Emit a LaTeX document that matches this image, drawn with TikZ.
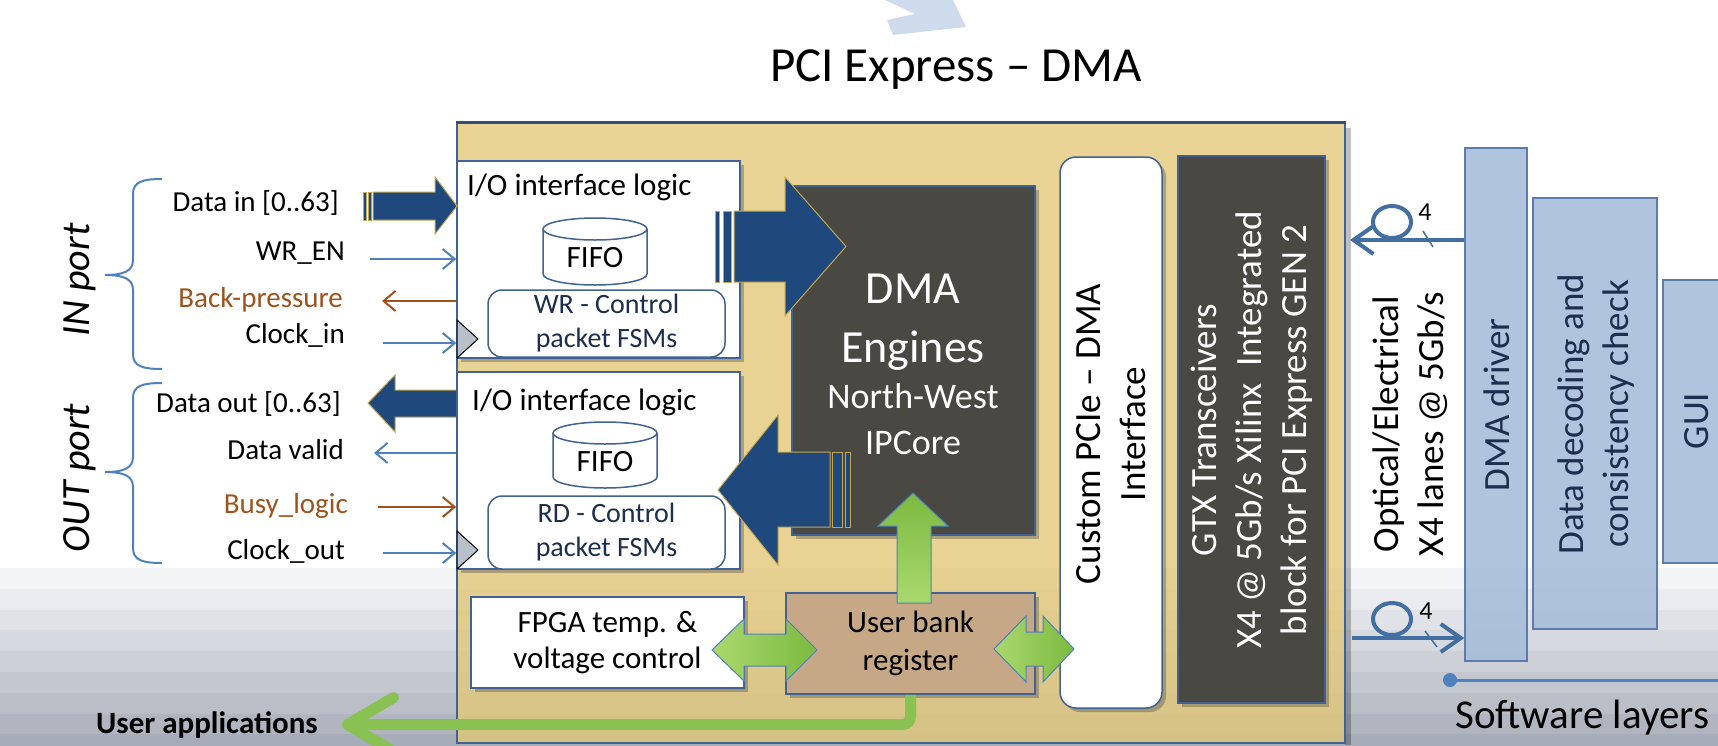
\documentclass[tikz,border=0pt]{standalone}
\usepackage{fontspec}
\setmainfont{Carlito}
\usepackage{xcolor}
\definecolor{sigblue}{RGB}{79,129,189}
\definecolor{rust}{RGB}{160,82,29}
\definecolor{navyarrow}{RGB}{31,73,125}
\definecolor{goldline}{RGB}{196,166,80}
\definecolor{sand}{RGB}{226,199,118}
\definecolor{frameblue}{RGB}{64,98,148}
\definecolor{charcoal}{RGB}{74,72,67}
\definecolor{tanbox}{RGB}{198,168,134}
\definecolor{leaf}{RGB}{124,186,64}
\definecolor{leaflight}{RGB}{170,216,110}
\definecolor{mist}{RGB}{166,188,217}
\definecolor{mistline}{RGB}{92,124,172}
\definecolor{navytext}{RGB}{30,46,78}
\definecolor{stripehi}{RGB}{243,244,246}
\definecolor{stripelo}{RGB}{166,172,184}
\definecolor{ghost}{RGB}{206,219,236}
\definecolor{clockgray}{RGB}{186,192,202}
\usepackage{tikz}
\usetikzlibrary{arrows.meta,positioning,calc,shadows}
\tikzset{
  softshadow/.style={drop shadow={shadow xshift=4pt,shadow yshift=-4pt,
                     opacity=0.35,fill=black!75}},
  whitebox/.style={draw=frameblue,line width=1.5pt,fill=white,softshadow,inner sep=0pt},
  darkbox/.style={draw=frameblue,line width=1.5pt,fill=charcoal,softshadow,inner sep=0pt},
  swbox/.style={draw=mistline,line width=1.5pt,fill=mist,fill opacity=0.88,inner sep=0pt},
  ctlbox/.style={draw=frameblue,line width=1.5pt,fill=white,rounded corners=14pt,
                 text=navytext,align=center,inner sep=0pt,
                 font=\fontsize{28}{34}\selectfont},
  portlbl/.style={font=\fontsize{29}{35}\selectfont,anchor=base east,inner sep=0pt},
  portname/.style={font=\itshape\fontsize{40}{48}\selectfont,rotate=90,inner sep=0pt},
  heading/.style={font=\fontsize{31}{37}\selectfont,anchor=base west,inner sep=0pt},
  midlbl/.style={font=\fontsize{31}{37}\selectfont,align=center,inner sep=0pt},
  vertlbl/.style={font=\fontsize{37}{45}\selectfont,align=center,rotate=90,inner sep=0pt},
  swlbl/.style={vertlbl,text=navytext},
  wire/.style={draw=sigblue,line width=2pt,-{Straight Barb[length=12pt,width=20pt]}},
  rustwire/.style={wire,draw=rust},
  brace/.style={draw=sigblue,line width=2pt},
  bigarrow/.style={fill=navyarrow,draw=goldline,line width=1pt},
  greenarrow/.style={draw=sigblue,line width=1pt,top color=leaf,bottom color=leaflight},
  greenside/.style={draw=sigblue,line width=1pt,left color=leaflight,right color=leaf},
  fiber/.style={draw=sigblue!85!black,line width=4pt,
                -{Straight Barb[length=20pt,width=28pt]}},
  fiberloop/.style={draw=sigblue!85!black,line width=4pt},
  lanes/.style={font=\fontsize{26}{31}\selectfont,inner sep=0pt},
}

\begin{document}
\begin{tikzpicture}[x=1pt,y=-1pt]
\useasboundingbox (0,0) rectangle (1718,745);
\clip (0,0) rectangle (1718,745);
% floor stripes
\foreach \i [evaluate=\i as \pc using int(\i*12.5)] in {0,...,8}
  \fill[stripelo!\pc!stripehi] (0,{568+\i*20.8}) rectangle (1718,{589.3+\i*20.8});
\fill[ghost] (885,0) -- (953,0) -- (966,27) -- (893,35) -- (887,20) -- (915,14) -- cycle;

\node[font=\fontsize{49}{58}\selectfont] (title) at (956,70) {PCI Express – DMA};

% FPGA card
\fill[black,opacity=0.25] (1345,128) rectangle (1351,745);
\node[draw=frameblue,line width=2pt,fill=sand,fill opacity=0.78,
      minimum width=888pt,minimum height=620pt,inner sep=0pt] (card) at (901,433) {};
\draw[frameblue!80!black,line width=3pt] (card.north west) -- (card.north east);

% ports
\node[portname] (inport) at (80,280) {IN port};
\node[portname] (outport) at (80,478) {OUT port};
\draw[brace] (162,179) .. controls (142,179) and (133,182) .. (133,194)
  -- (133,260) .. controls (133,271) and (124,275) .. (105,275)
  .. controls (124,275) and (133,279) .. (133,290)
  -- (133,354) .. controls (133,366) and (142,369) .. (162,369);
\draw[brace] (162,383) .. controls (142,383) and (133,386) .. (133,398)
  -- (133,457) .. controls (133,468) and (124,472) .. (105,472)
  .. controls (124,472) and (133,476) .. (133,487)
  -- (133,548) .. controls (133,560) and (142,563) .. (162,563);

\node[portlbl] (datain) at (339,211) {Data in [0..63]};
\node[portlbl] (wren) at (345,260) {WR\_EN};
\node[portlbl,text=rust] (backp) at (343,307) {Back-pressure};
\node[portlbl] (clkin) at (345,343) {Clock\_in};
\node[portlbl] (dataout) at (341,412) {Data out [0..63]};
\node[portlbl] (dvalid) at (344,459) {Data valid};
\node[portlbl,text=rust] (busy) at (348,513) {Busy\_logic};
\node[portlbl] (clkout) at (345,559) {Clock\_out};

% data out bus (under the box edge)
\path[bigarrow] (368,403) -- (395,375) -- (395,390) -- (457,390) -- (457,417)
  -- (395,417) -- (395,432) -- cycle;

% I/O blocks
\node[whitebox,minimum width=283pt,minimum height=197pt] (ioin) at (598.5,259.5) {};
\node[whitebox,minimum width=283pt,minimum height=197pt] (ioout) at (598.5,470.5) {};
\node[heading] (iohdin) at (467,195) {I/O interface logic};
\node[heading] (iohdout) at (472,410) {I/O interface logic};

\draw[frameblue,line width=1.5pt,fill=white] (543,229) -- (543,274)
  arc[start angle=180,end angle=0,x radius=52,y radius=11] -- (647,229);
\draw[frameblue,line width=1.5pt,fill=white] (595,229) ellipse[x radius=52,y radius=11];
\node[midlbl] (fifoin) at (595,258) {FIFO};
\draw[frameblue,line width=1.5pt,fill=white] (553,433) -- (553,477)
  arc[start angle=180,end angle=0,x radius=52,y radius=11] -- (657,433);
\draw[frameblue,line width=1.5pt,fill=white] (605,433) ellipse[x radius=52,y radius=11];
\node[midlbl] (fifoout) at (605,462) {FIFO};

\node[ctlbox,minimum width=237pt,minimum height=67pt] (wrctl) at (606.5,323.5)
  {WR - Control\\packet FSMs};
\node[ctlbox,minimum width=237pt,minimum height=73pt] (rdctl) at (606.5,532.5)
  {RD - Control\\packet FSMs};

\filldraw[fill=clockgray,draw=black,line width=1pt] (457,320) -- (478,339) -- (457,358) -- cycle;
\filldraw[fill=clockgray,draw=black,line width=1pt] (457,531) -- (478,550) -- (457,569) -- cycle;

% control wires
\coordinate (wrtail) at (370,259);
\draw[wire] (wrtail) -- (wrtail -| ioin.west);
\coordinate (bphead) at (382,301);
\draw[rustwire] (bphead -| ioin.west) -- (bphead);
\coordinate (clkintail) at (383,343);
\draw[wire] (clkintail) -- (clkintail -| ioin.west);
\coordinate (dvhead) at (374,453);
\draw[wire] (dvhead -| ioout.west) -- (dvhead);
\coordinate (busytail) at (378,507);
\draw[rustwire] (busytail) -- (busytail -| ioout.west);
\coordinate (clkouttail) at (383,553);
\draw[wire] (clkouttail) -- (clkouttail -| ioout.west);

% data in bus
\path[bigarrow] (363,192) rectangle (366,220);
\path[bigarrow] (368,192) rectangle (371,220);
\path[bigarrow] (373,192) -- (435,192) -- (435,177) -- (457,206) -- (435,234)
  -- (435,220) -- (373,220) -- cycle;

% DMA engines
\node[darkbox,minimum width=243pt,minimum height=349pt] (dma) at (913.5,360.5) {};
\node[text=white,align=center,inner sep=0pt,font=\fontsize{46}{59}\selectfont]
  (dmatitle) at (913,322) {DMA\\Engines};
\node[text=white,align=center,inner sep=0pt,font=\fontsize{36}{46}\selectfont]
  (dmacore) at (913,419) {North-West\\IPCore};

\path[bigarrow] (715,211) rectangle (719,282);
\path[bigarrow] (723,211) rectangle (731,282);
\path[bigarrow] (734,211) -- (785,211) -- (785,177) -- (846,246.5) -- (785,316)
  -- (785,282) -- (734,282) -- cycle;
\path[bigarrow] (845,452) rectangle (850,527);
\path[bigarrow] (832,452) rectangle (842,527);
\path[bigarrow] (830,452) -- (778,452) -- (778,415) -- (718,490) -- (778,565)
  -- (778,527) -- (830,527) -- cycle;

% bottom row
\node[whitebox,minimum width=273pt,minimum height=91pt,midlbl,
      font=\fontsize{31}{36}\selectfont] (fpga) at (607.5,642.5)
  {FPGA temp. \&\\voltage control};
\node[draw=frameblue,line width=1.5pt,fill=tanbox,softshadow,inner sep=0pt,
      minimum width=249pt,minimum height=101pt,align=center,
      font=\fontsize{31}{38}\selectfont] (ubr) at (910.5,643.5) {User bank\\register};

\path[greenarrow] (897,603) -- (897,526) -- (878,526) -- (913,493) -- (948,526)
  -- (931,526) -- (931,603) -- cycle;
\path[greenside] (712,650) -- (744,619) -- (744,634) -- (786,634) -- (786,619)
  -- (817,650) -- (786,681) -- (786,666) -- (744,666) -- (744,681) -- cycle;

% PCIe side
\node[whitebox,rounded corners=16pt,minimum width=102pt,minimum height=551pt]
  (custom) at (1111,432.5) {};
\node[vertlbl] (customtxt) at (1111,434) {Custom PCIe – DMA\\Interface};
\path[greenside] (994,649) -- (1026,616) -- (1026,632) -- (1043,632) -- (1043,616)
  -- (1074,649) -- (1043,682) -- (1043,666) -- (1026,666) -- (1026,682) -- cycle;

\node[darkbox,minimum width=147pt,minimum height=547pt] (gtx) at (1251.5,429.5) {};
\node[vertlbl,text=white] (gtxtxt) at (1252,430)
  {GTX Transceivers\\X4 @ 5Gb/s Xilinx\ \ Integrated\\block for PCI Express GEN 2};

\node[font=\bfseries\fontsize{31}{37}\selectfont,anchor=base east,inner sep=0pt]
  (userapp) at (318,733) {User applications};
\draw[draw=leaf!90!white,line width=11pt,rounded corners=8pt,
      -{Straight Barb[length=46pt,width=54pt,round]}]
  (ubr.south) |- ([xshift=24pt]userapp.east);

% host side
\node[vertlbl] (optlink) at (1410,424) {Optical/Electrical\\X4 lanes @ 5Gb/s};

\node[swbox,minimum width=62pt,minimum height=513pt] (drv) at (1496,404.5) {};
\node[swlbl] (drvtxt) at (1497,405) {DMA driver};
\node[swbox,minimum width=124pt,minimum height=431pt] (decode) at (1595,413.5) {};
\node[swlbl] (decodetxt) at (1596,414) {Data decoding and\\consistency check};
\node[swbox,minimum width=84pt,minimum height=283pt] (gui) at (1705,421.5) {};
\node[swlbl] (guitxt) at (1697,421) {GUI};

\coordinate (rxtip) at (1350,240);
\draw[fiber] (drv.west |- rxtip) -- (rxtip);
\draw[fiberloop] (1392,222) ellipse[x radius=19,y radius=16];
\draw[sigblue!85!black,line width=1.5pt] (1423,231) -- (1433,247);
\node[lanes] (lanesrx) at (1425,212) {4};

\coordinate (txtail) at (1352,638);
\draw[fiber] (txtail) -- (txtail -| drv.west);
\draw[fiberloop] (1392,619) ellipse[x radius=19,y radius=16];
\draw[sigblue!85!black,line width=1.5pt] (1425,631) -- (1437,647);
\node[lanes] (lanestx) at (1426,611) {4};

\coordinate (swdot) at (1450,680);
\fill[sigblue] (swdot) circle[radius=7];
\draw[sigblue,line width=3pt] (swdot) -- (1718,680);
\node[font=\fontsize{41}{49}\selectfont,anchor=base west,inner sep=0pt] (swlayers)
  at (1455,728) {Software layers};
\end{tikzpicture}
\end{document}
